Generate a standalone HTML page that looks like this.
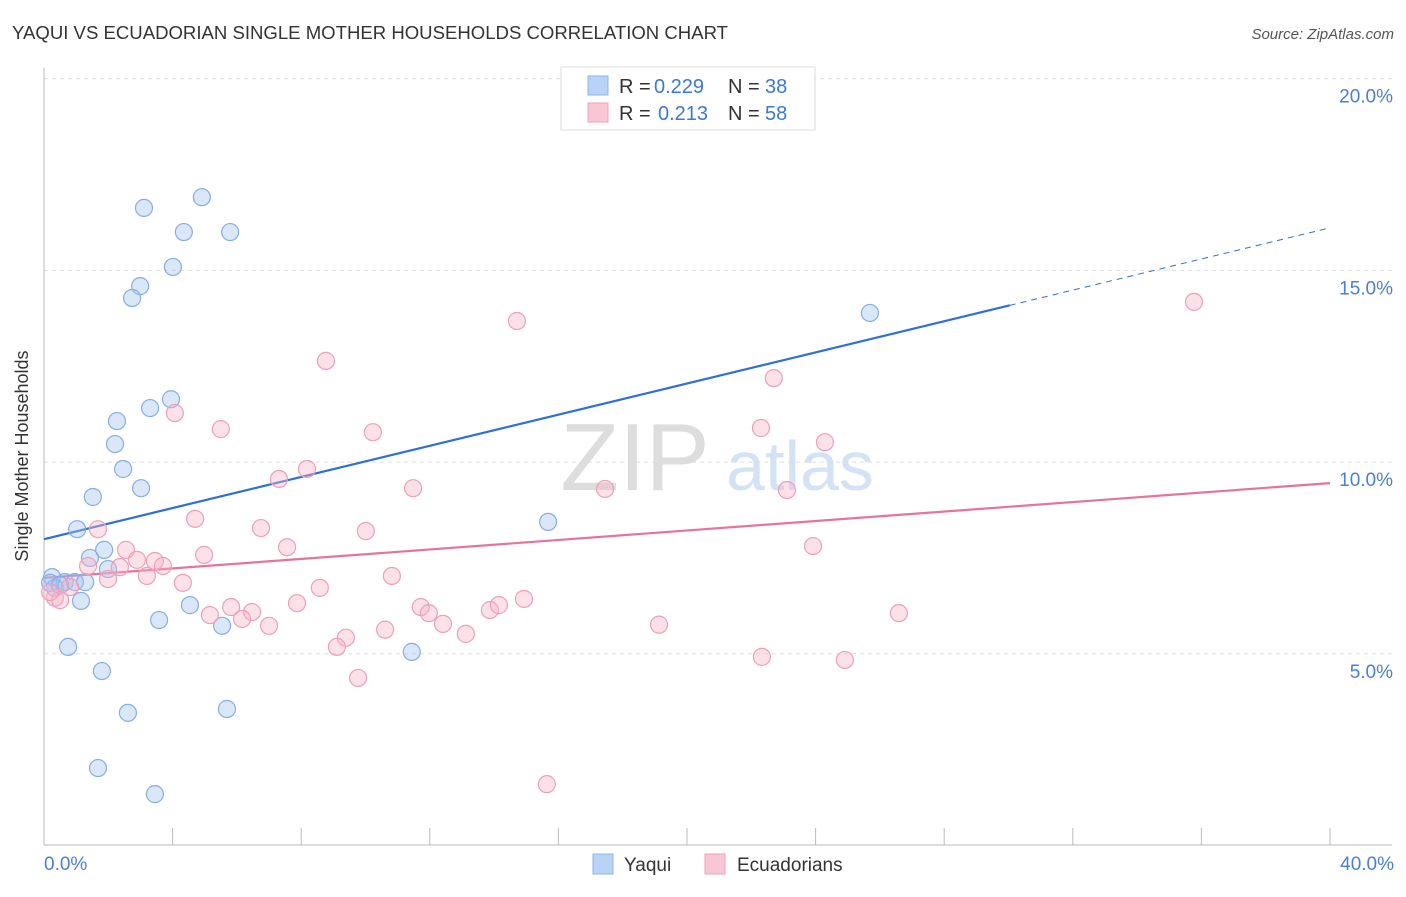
<!DOCTYPE html>
<html><head><meta charset="utf-8"><style>
body{margin:0;background:#fff;font-family:"Liberation Sans",sans-serif;}
svg text{font-family:"Liberation Sans",sans-serif;}
</style></head><body>
<svg id="c" width="1406" height="892">
<text x="12" y="39" font-size="18" fill="#333" textLength="716" lengthAdjust="spacingAndGlyphs">YAQUI VS ECUADORIAN SINGLE MOTHER HOUSEHOLDS CORRELATION CHART</text>
<text x="1394" y="39" font-size="15" fill="#555" text-anchor="end" font-style="italic">Source: ZipAtlas.com</text>
<g><text x="635" y="490" font-size="96" fill="#ddd" text-anchor="middle" font-family="Liberation Serif,serif">ZIP</text><text x="800" y="490" font-size="70" fill="#d3e2f5" text-anchor="middle">atlas</text></g>
<g id="grid"></g><g id="axes"></g><g id="lines"></g><g id="pts"></g>
<text x="28" y="456" font-size="18" fill="#333" text-anchor="middle" transform="rotate(-90 28 456)">Single Mother Households</text>
<text x="44" y="870" font-size="19" fill="#4a7fd4">0.0%</text>
<text x="1394" y="870" font-size="19" fill="#4a7fd4" text-anchor="end">40.0%</text>
<g>
<rect x="561" y="67" width="254" height="63" fill="#fff" stroke="#ddd"/>
<rect x="588" y="76" width="20" height="19" fill="#b8d3f5" stroke="#8db4e6"/>
<rect x="588" y="103" width="20" height="19" fill="#f9c6d5" stroke="#f0a0b8"/>
<text y="93" font-size="20" fill="#333"><tspan x="619">R =</tspan><tspan x="654" fill="#3b78d8">0.229</tspan><tspan x="728">N =</tspan><tspan x="765" fill="#3b78d8">38</tspan></text>
<text y="120" font-size="20" fill="#333"><tspan x="619">R =</tspan><tspan x="658" fill="#3b78d8">0.213</tspan><tspan x="728">N =</tspan><tspan x="765" fill="#3b78d8">58</tspan></text>
</g>
<g>
<rect x="593" y="854" width="20" height="20" fill="#b8d3f5" stroke="#8db4e6"/>
<text x="624" y="871" font-size="19" fill="#333">Yaqui</text>
<rect x="705" y="854" width="20" height="20" fill="#f9c6d5" stroke="#f0a0b8"/>
<text x="737" y="871" font-size="19" fill="#333">Ecuadorians</text>
</g>
</svg>
<script>
const yTicks=[5,10,15,20];
const yTickLabels=["5.0%","10.0%","15.0%","20.0%"];
const yaquiX=[3.11,4.91,4.35,5.79,4.01,2.99,2.74,25.69,3.95,3.30,2.27,2.21,2.46,3.02,1.52,1.03,15.68,1.87,1.43,1.99,0.25,0.65,0.96,1.28,0.34,1.15,4.54,3.58,5.54,0.75,11.44,1.80,2.61,5.69,1.68,3.45,0.19,0.50];
const yaquiY=[16.63,16.91,16.00,16.00,15.09,14.59,14.28,13.89,11.64,11.41,11.07,10.47,9.82,9.32,9.09,8.25,8.44,7.71,7.50,7.21,7.00,6.87,6.87,6.87,6.72,6.38,6.27,5.88,5.73,5.18,5.05,4.55,3.46,3.56,2.02,1.34,6.85,6.79];
const ecuX=[35.77,14.71,8.77,22.70,4.07,5.50,10.23,22.30,24.29,7.31,8.18,11.48,17.45,23.11,4.70,1.68,6.75,10.01,7.56,23.92,2.55,4.98,2.89,3.45,3.70,1.37,2.36,3.20,10.82,4.32,1.99,8.58,14.93,5.82,7.87,11.72,6.47,13.87,14.15,11.97,26.59,5.16,6.16,7.00,12.41,19.13,10.61,13.12,9.39,9.11,22.33,24.91,9.77,15.64,0.34,0.50,0.19,0.81];
const ecuY=[14.18,13.68,12.64,12.19,11.28,10.86,10.78,10.89,10.52,9.56,9.82,9.32,9.30,9.27,8.52,8.25,8.28,8.20,7.78,7.81,7.71,7.58,7.45,7.42,7.29,7.29,7.26,7.03,7.03,6.85,6.95,6.72,6.43,6.22,6.32,6.22,6.09,6.14,6.27,6.06,6.06,6.01,5.91,5.73,5.78,5.76,5.63,5.52,5.42,5.18,4.92,4.84,4.37,1.60,6.46,6.40,6.61,6.74];
const yaquiTrend=[7.99,0.203];
const ecuTrend=[6.98,0.0618];
const NS="http://www.w3.org/2000/svg";
const X=v=>44+v/40*1286, Y=v=>845.5-v*38.34;
function mk(p,t,a){const e=document.createElementNS(NS,t);for(const k in a)e.setAttribute(k,a[k]);document.getElementById(p).appendChild(e);return e;}
yTicks.forEach((t,i)=>{
 const g=mk('grid','line',{x1:44,x2:1392,y1:Y(t),y2:Y(t),stroke:'#ddd','stroke-dasharray':'4,4'});
 
 
 const l=mk('grid','text',{x:1393,y:Y(t)+24,'font-size':19,fill:'#4a7fd4','text-anchor':'end'});
 l.textContent=yTickLabels[i];
 
 
});
mk('axes','line',{x1:44,x2:44,y1:68,y2:845,stroke:'#bbb'});
mk('axes','line',{x1:44,x2:1392,y1:845,y2:845,stroke:'#bbb'});
for(let i=0;i<=10;i++){const t=mk('axes','line',{x1:X(i*4),x2:X(i*4),y1:828,y2:845,stroke:'#bbb'});
 
 }
const bx=30.04;
let l1=mk('lines','line',{x1:X(0),y1:Y(yaquiTrend[0]),x2:X(bx),y2:Y(yaquiTrend[0]+yaquiTrend[1]*bx),stroke:'#2f6fd6','stroke-width':2.2});


let l2=mk('lines','line',{x1:X(bx),y1:Y(yaquiTrend[0]+yaquiTrend[1]*bx),x2:X(40),y2:Y(yaquiTrend[0]+yaquiTrend[1]*40),stroke:'#2f6fd6','stroke-width':1,'stroke-dasharray':'6,5'});


let l3=mk('lines','line',{x1:X(0),y1:Y(ecuTrend[0]),x2:X(40),y2:Y(ecuTrend[0]+ecuTrend[1]*40),stroke:'#e8739a','stroke-width':2.2});


yaquiX.forEach((x,i)=>{const c=mk('pts','circle',{cx:X(x),cy:Y(yaquiY[i]),r:8.5,fill:'rgba(160,196,240,0.4)',stroke:'#86aee4','stroke-width':1.2});
 
 });
ecuX.forEach((x,i)=>{const c=mk('pts','circle',{cx:X(x),cy:Y(ecuY[i]),r:8.5,fill:'rgba(248,180,200,0.4)',stroke:'#eea0b8','stroke-width':1.2});
 
 });
</script>
</body></html>
